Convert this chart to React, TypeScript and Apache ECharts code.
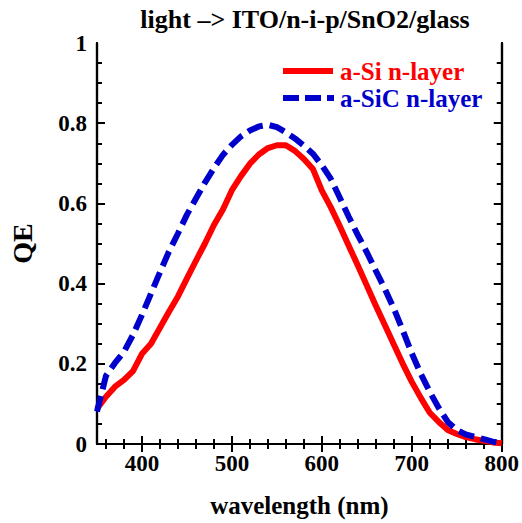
import React, { useEffect, useRef } from "react";
import * as echarts from "echarts";

const wavelengths = [350,360,370,380,390,400,410,420,430,440,450,460,470,480,490,500,510,520,530,540,550,560,570,580,590,600,610,620,630,640,650,660,670,680,690,700,710,720,730,740,750,760,770,780,790,800];
const aSiQE = [0.088,0.118,0.143,0.160,0.182,0.225,0.250,0.290,0.330,0.368,0.413,0.457,0.500,0.546,0.585,0.633,0.668,0.699,0.722,0.738,0.745,0.745,0.731,0.711,0.686,0.632,0.590,0.543,0.494,0.445,0.395,0.345,0.297,0.248,0.200,0.155,0.115,0.078,0.055,0.035,0.025,0.017,0.012,0.008,0.004,0.002];
const aSiCQE = [0.081,0.170,0.202,0.230,0.272,0.322,0.375,0.428,0.480,0.525,0.572,0.612,0.652,0.688,0.721,0.746,0.767,0.782,0.792,0.796,0.790,0.777,0.762,0.744,0.724,0.695,0.661,0.614,0.566,0.521,0.478,0.432,0.387,0.338,0.283,0.226,0.175,0.130,0.090,0.055,0.035,0.024,0.018,0.012,0.006,0.002];
const xMajorTicks = [400, 500, 600, 700, 800];
const xMinorTicks = [360, 380, 420, 440, 460, 480, 520, 540, 560, 580, 620, 640, 660, 680, 720, 740, 760, 780];
const yMajorTicks = [0.2, 0.4, 0.6, 0.8];
const yMinorTicks = [0.05, 0.1, 0.15, 0.25, 0.3, 0.35, 0.45, 0.5, 0.55, 0.65, 0.7, 0.75, 0.85, 0.9, 0.95];
const yLabels = [0, 0.2, 0.4, 0.6, 0.8, 1];
const seriesNames = ["a-Si n-layer", "a-SiC n-layer"];
const titleText = "light \u2013> ITO/n-i-p/SnO2/glass";
const xName = "wavelength (nm)";
const yName = "QE";

const FONT = "'Liberation Serif', 'Times New Roman', serif";
const RED = "#ff0000";
const BLUE = "#0000cc";

export default function App() {
  const ref = useRef<HTMLDivElement>(null);
  useEffect(() => {
    if (!ref.current) return;
    const chart = echarts.init(ref.current, null, { renderer: "svg" });
    const line = { show: true, lineStyle: { color: "#000", width: 2.2 } };
    const majorTick = { show: true, inside: true, length: 8, lineStyle: { color: "#000", width: 2 } };
    const minorTick = { show: true, inside: true, length: 5, lineStyle: { color: "#000", width: 2 } };
    const labelStyle = { color: "#000", fontFamily: FONT, fontWeight: "bold", fontSize: 23 };
    const xBase = { type: "value", min: 350, max: 800, splitLine: { show: false }, axisLine: line };
    const yBase = { type: "value", min: 0, max: 1, interval: 0.2, splitLine: { show: false }, axisLine: line };
    const noLabel = { show: false };
    chart.setOption({
      animation: false,
      backgroundColor: "#fff",
      title: {
        text: titleText,
        left: 300,
        top: 1,
        textAlign: "center",
        textStyle: { fontFamily: FONT, fontWeight: "bold", fontSize: 26, color: "#000" },
      },
      grid: { left: 96, right: 20, top: 43, bottom: 75 },
      xAxis: [
        {
          ...xBase,
          position: "bottom",
          name: xName,
          nameLocation: "middle",
          nameGap: 49,
          nameTextStyle: { ...labelStyle, fontSize: 25 },
          axisTick: { ...majorTick, customValues: xMajorTicks },
          axisLabel: { ...labelStyle, margin: 8, customValues: xMajorTicks },
        },
        { ...xBase, position: "bottom", axisTick: { ...minorTick, customValues: xMinorTicks }, axisLabel: noLabel },
        { ...xBase, position: "top", axisTick: { ...majorTick, customValues: xMajorTicks }, axisLabel: noLabel },
        { ...xBase, position: "top", axisTick: { ...minorTick, customValues: xMinorTicks }, axisLabel: noLabel },
      ],
      yAxis: [
        {
          ...yBase,
          position: "left",
          name: yName,
          nameLocation: "middle",
          nameGap: 61,
          nameRotate: 90,
          nameTextStyle: { ...labelStyle, fontSize: 28 },
          axisTick: { ...majorTick, customValues: yMajorTicks },
          axisLabel: {
            ...labelStyle,
            margin: 10,
            customValues: yLabels,
            formatter: (v: number) => (v === 0 || v === 1 ? String(v) : v.toFixed(1)),
          },
        },
        { ...yBase, position: "left", axisTick: { ...minorTick, customValues: yMinorTicks }, axisLabel: noLabel },
        { ...yBase, position: "right", axisTick: { ...majorTick, customValues: yMajorTicks }, axisLabel: noLabel },
        { ...yBase, position: "right", axisTick: { ...minorTick, customValues: yMinorTicks }, axisLabel: noLabel },
      ],
      graphic: [
        { type: "line", shape: { x1: 283, y1: 71, x2: 333, y2: 71 }, style: { stroke: RED, lineWidth: 6 } },
        { type: "text", x: 340, y: 71, style: { text: seriesNames[0], fill: RED, font: `bold 25px ${FONT}`, verticalAlign: "middle" } },
        { type: "line", shape: { x1: 283, y1: 98, x2: 334, y2: 98 }, style: { stroke: BLUE, lineWidth: 6, lineDash: [16, 6] } },
        { type: "text", x: 340, y: 98, style: { text: seriesNames[1], fill: BLUE, font: `bold 25px ${FONT}`, verticalAlign: "middle" } },
      ],
      series: [
        {
          name: seriesNames[0],
          type: "line",
          xAxisIndex: 0,
          yAxisIndex: 0,
          data: wavelengths.map((w, i) => [w, aSiQE[i]]),
          showSymbol: false,
          symbol: "none",
          lineStyle: { color: RED, width: 6, join: "round" },
          z: 3,
        },
        {
          name: seriesNames[1],
          type: "line",
          xAxisIndex: 0,
          yAxisIndex: 0,
          data: wavelengths.map((w, i) => [w, aSiCQE[i]]),
          showSymbol: false,
          symbol: "none",
          lineStyle: { color: BLUE, width: 6, type: [16, 7] },
          z: 4,
        },
      ],
    });
    return () => chart.dispose();
  }, []);
  return <div ref={ref} style={{ width: 522, height: 523, position: "absolute", left: 0, top: 0 }} />;
}
